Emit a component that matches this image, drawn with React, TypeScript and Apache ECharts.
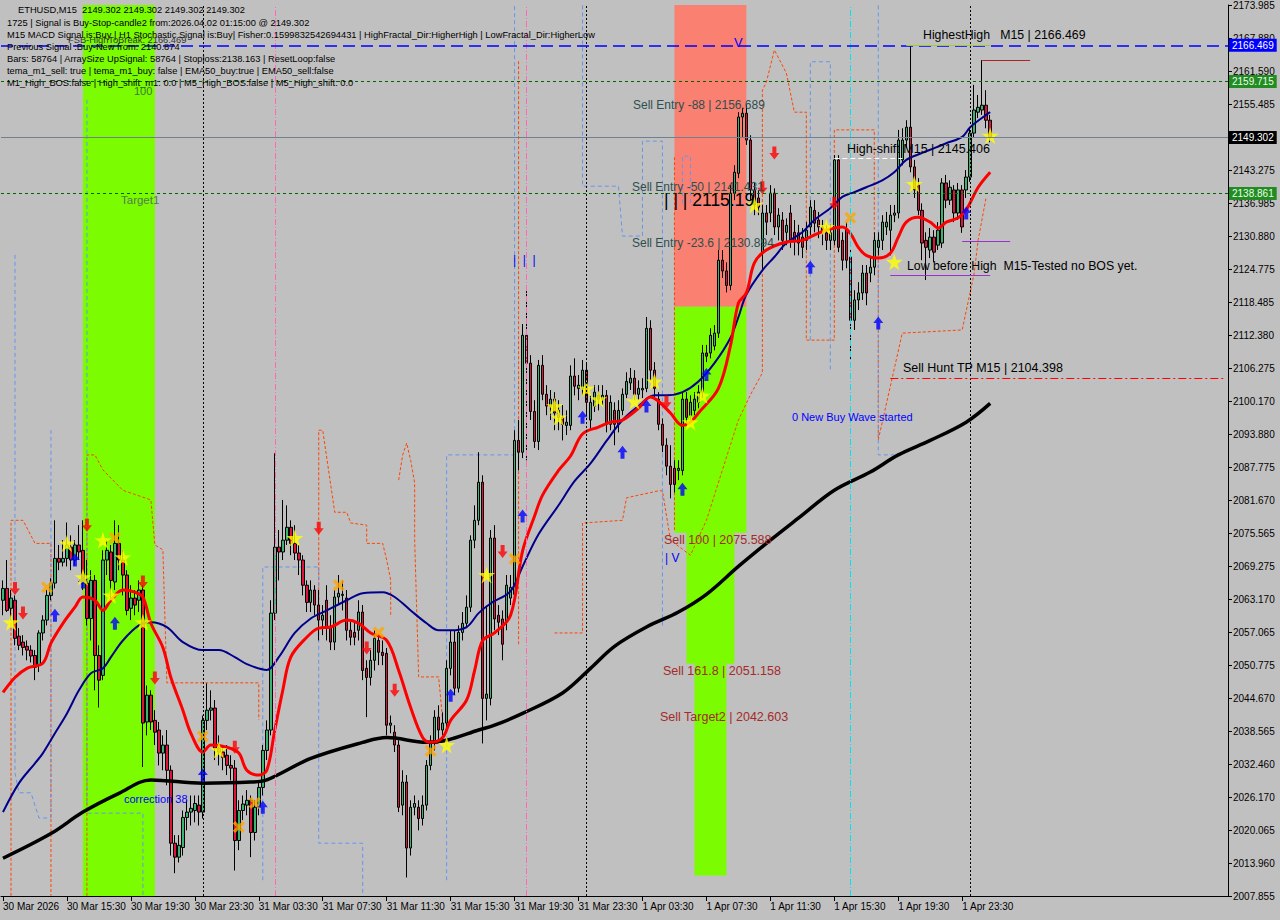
import React, { useEffect, useRef } from "react";
import * as echarts from "echarts";

const X_LABELS = ["30 Mar 2026","30 Mar 15:30","30 Mar 19:30","30 Mar 23:30","31 Mar 03:30","31 Mar 07:30","31 Mar 11:30","31 Mar 15:30","31 Mar 19:30","31 Mar 23:30","1 Apr 03:30","1 Apr 07:30","1 Apr 11:30","1 Apr 15:30","1 Apr 19:30","1 Apr 23:30"];
const Y_LABELS = ["2007.855","2013.960","2020.065","2026.170","2032.460","2038.565","2044.670","2050.775","2057.065","2063.170","2069.275","2075.565","2081.670","2087.775","2093.880","2100.170","2106.275","2112.380","2118.485","2124.775","2130.880","2136.985","2143.275","2149.380","2155.485","2161.590","2167.880","2173.985"];
const PRICE_MIN = 2007.855;
const PRICE_MAX = 2173.985;
const SLOT_COUNT = 307;

// [open, close, low, high]
const CANDLES = [
[2063.0,2065.2,2060.2,2066.7],[2065.2,2061.1,2060.8,2070.5],[2061.5,2063.4,2059.3,2064.9],[2063.0,2055.9,2054.6,2063.9],[2056.3,2054.6,2053.7,2057.8],
[2055.2,2054.2,2052.7,2056.5],[2054.4,2053.7,2051.8,2055.5],[2053.7,2052.6,2051.4,2054.6],[2052.7,2050.5,2048.1,2053.7],[2050.9,2056.9,2049.6,2057.4],
[2056.9,2059.3,2055.5,2060.2],[2059.3,2063.9,2058.3,2064.9],[2063.9,2066.2,2063.0,2067.1],[2066.2,2070.8,2065.2,2077.9],[2070.8,2070.1,2068.6,2073.3],
[2070.1,2070.8,2069.3,2074.2],[2070.8,2073.3,2069.3,2077.5],[2072.9,2070.5,2068.6,2075.1],[2070.5,2073.3,2069.5,2074.2],[2073.3,2072.0,2070.5,2077.0],
[2072.3,2066.2,2064.9,2077.9],[2066.2,2059.6,2058.3,2070.5],[2059.6,2066.7,2055.5,2068.6],[2066.7,2052.7,2046.2,2067.7],[2052.7,2048.1,2043.0,2054.6],
[2049.0,2070.5,2048.1,2072.3],[2070.5,2072.3,2067.7,2074.2],[2072.0,2066.7,2063.0,2073.3],[2066.4,2073.6,2064.9,2077.9],[2073.6,2070.5,2068.6,2077.0],
[2070.5,2067.7,2063.9,2072.3],[2067.7,2061.1,2060.2,2068.6],[2061.5,2063.4,2059.3,2065.8],[2063.4,2062.1,2060.2,2064.9],[2063.0,2064.9,2060.8,2066.7],
[2064.9,2040.1,2031.9,2065.8],[2040.3,2045.3,2037.8,2047.1],[2045.3,2040.3,2038.8,2046.2],[2040.6,2038.4,2036.0,2042.5],[2038.8,2034.5,2032.2,2040.3],
[2034.5,2036.0,2031.3,2037.8],[2036.0,2031.3,2028.5,2038.8],[2031.3,2017.7,2015.4,2032.2],[2017.7,2015.1,2012.1,2019.2],[2015.1,2017.3,2014.1,2019.2],
[2016.9,2022.5,2015.4,2023.8],[2022.5,2023.5,2020.1,2025.7],[2023.5,2024.2,2021.0,2026.6],[2023.8,2025.1,2021.6,2026.6],[2024.8,2023.5,2021.0,2026.6],
[2023.5,2040.6,2022.3,2041.5],[2040.6,2042.5,2038.8,2047.5],[2042.5,2042.9,2040.6,2046.2],[2042.9,2035.4,2033.2,2044.4],[2035.4,2034.7,2032.2,2037.8],
[2034.7,2033.7,2031.3,2036.0],[2034.1,2032.2,2030.4,2036.0],[2032.2,2031.7,2029.4,2034.1],[2031.7,2018.2,2012.6,2033.2],[2018.2,2023.8,2016.4,2025.7],
[2023.8,2025.0,2022.0,2026.6],[2024.8,2025.7,2022.9,2027.6],[2025.7,2019.7,2015.1,2026.6],[2019.7,2024.4,2018.2,2025.7],[2024.4,2028.1,2022.9,2029.4],
[2028.1,2035.0,2026.6,2036.0],[2035.0,2038.8,2033.2,2040.6],[2038.8,2060.6,2037.8,2063.0],[2060.6,2072.9,2059.3,2090.4],[2072.9,2072.0,2066.7,2076.1],
[2072.0,2074.2,2070.5,2081.7],[2074.2,2076.6,2073.3,2080.7],[2076.6,2073.6,2071.4,2077.9],[2073.6,2071.8,2070.5,2077.0],[2071.8,2070.5,2067.7,2073.3],
[2070.5,2065.8,2063.9,2071.4],[2065.8,2062.6,2060.8,2066.7],[2062.6,2064.9,2060.8,2066.7],[2064.9,2062.1,2060.2,2065.8],[2062.1,2059.3,2055.5,2064.9],
[2059.3,2060.2,2056.5,2062.1],[2063.0,2058.0,2055.5,2065.8],[2058.0,2055.2,2053.7,2060.2],[2055.2,2063.6,2053.7,2064.9],[2063.6,2064.3,2062.1,2067.7],
[2063.9,2064.1,2061.1,2066.7],[2063.4,2057.4,2055.5,2064.9],[2057.4,2056.1,2054.6,2059.3],[2057.0,2056.1,2054.6,2059.3],[2057.4,2060.8,2055.5,2063.0],
[2060.8,2049.9,2048.1,2062.1],[2050.3,2048.6,2041.2,2051.8],[2048.6,2051.8,2047.1,2053.7],[2051.8,2055.9,2049.9,2057.4],[2055.5,2053.3,2050.9,2056.5],
[2053.3,2052.7,2050.9,2055.5],[2053.1,2039.7,2037.8,2054.1],[2039.7,2040.1,2038.2,2041.5],[2038.4,2036.0,2034.7,2039.7],[2036.0,2024.4,2023.5,2036.9],
[2024.8,2029.1,2022.9,2031.3],[2029.1,2016.8,2011.3,2030.4],[2016.8,2024.4,2015.4,2025.7],[2024.4,2025.1,2022.9,2026.6],[2024.4,2022.3,2020.1,2025.7],
[2022.3,2024.8,2021.0,2026.6],[2024.8,2032.2,2023.8,2033.2],[2032.2,2036.3,2031.3,2037.8],[2036.3,2041.2,2035.0,2042.5],[2041.2,2038.8,2036.9,2043.4],
[2038.8,2040.1,2037.8,2042.1],[2040.1,2050.3,2038.8,2051.8],[2050.3,2055.2,2049.0,2057.4],[2055.2,2046.6,2045.3,2057.4],[2046.6,2057.0,2045.8,2058.3],
[2057.0,2058.7,2055.5,2060.8],[2058.7,2061.7,2057.8,2063.9],[2061.7,2074.2,2060.8,2075.1],[2074.2,2077.9,2072.7,2080.7],[2077.9,2085.0,2077.0,2090.6],
[2085.0,2044.7,2036.3,2086.3],[2044.7,2045.5,2040.6,2062.0],[2044.7,2074.6,2043.4,2076.1],[2074.6,2059.5,2057.4,2077.0],[2060.2,2058.9,2056.5,2062.1],
[2059.5,2054.8,2051.8,2061.1],[2058.9,2065.8,2057.4,2067.7],[2063.4,2065.4,2062.1,2067.7],[2064.1,2092.8,2063.0,2094.7],[2092.8,2090.6,2087.2,2096.6],
[2090.6,2112.4,2089.5,2114.5],[2112.4,2107.2,2089.1,2121.7],[2107.2,2098.2,2096.6,2108.7],[2098.2,2092.6,2091.4,2100.3],[2092.6,2106.8,2091.0,2107.8],
[2106.8,2101.4,2100.3,2108.7],[2101.4,2099.2,2097.5,2103.1],[2099.2,2100.5,2096.6,2102.2],[2100.5,2097.9,2094.7,2101.8],[2098.4,2097.1,2094.7,2100.3],
[2097.1,2095.8,2092.8,2099.4],[2095.6,2096.2,2093.8,2098.4],[2095.6,2104.8,2094.7,2106.8],[2104.8,2102.9,2101.2,2108.1],[2102.5,2103.1,2100.3,2105.0],
[2102.5,2105.9,2101.2,2107.8],[2105.9,2099.9,2097.5,2107.4],[2096.6,2099.9,2094.7,2101.2],[2099.2,2101.8,2098.1,2103.1],[2101.2,2100.5,2098.4,2103.1],
[2100.5,2101.2,2099.4,2103.1],[2101.2,2095.8,2094.3,2102.2],[2095.8,2099.9,2094.7,2101.2],[2098.4,2095.8,2091.9,2099.9],[2095.8,2098.4,2094.3,2100.3],
[2098.4,2101.4,2097.5,2102.5],[2101.4,2103.8,2100.7,2105.5],[2103.5,2104.4,2102.2,2106.3],[2104.4,2101.4,2100.3,2105.9],[2101.4,2102.5,2100.3,2104.0],
[2102.2,2102.5,2100.7,2104.4],[2102.5,2113.7,2101.8,2115.8],[2113.7,2105.9,2104.0,2115.2],[2105.9,2102.5,2100.7,2107.4],[2100.5,2095.8,2094.7,2101.8],
[2095.8,2091.9,2090.6,2096.9],[2091.9,2088.0,2086.3,2093.2],[2088.0,2084.6,2082.0,2091.9],[2087.6,2084.6,2083.1,2089.1],[2087.2,2087.6,2085.4,2089.1],
[2087.2,2100.5,2086.3,2101.8],[2100.5,2097.1,2095.6,2101.8],[2097.5,2099.9,2096.2,2101.2],[2098.4,2100.5,2097.5,2101.8],[2099.9,2101.8,2098.8,2103.1],
[2101.8,2109.1,2100.7,2110.6],[2109.1,2108.5,2107.4,2110.6],[2109.1,2112.4,2108.1,2113.7],[2110.4,2112.8,2109.6,2114.3],[2112.8,2126.4,2111.9,2128.3],
[2126.4,2124.4,2123.1,2128.3],[2124.4,2121.7,2120.4,2126.0],[2121.7,2138.9,2120.8,2140.4],[2138.9,2142.8,2137.6,2144.1],[2142.6,2153.1,2141.7,2154.0],
[2153.1,2153.8,2149.4,2154.8],[2153.8,2148.8,2147.9,2155.3],[2148.8,2139.5,2137.6,2149.7],[2139.5,2136.7,2134.8,2140.8],[2138.0,2136.3,2134.8,2139.5],
[2127.7,2135.2,2124.5,2136.7],[2135.2,2133.5,2131.1,2136.7],[2135.2,2138.9,2133.5,2140.4],[2138.9,2132.6,2131.1,2139.8],[2132.6,2134.8,2130.1,2136.1],
[2133.9,2130.1,2128.3,2135.4],[2131.6,2132.9,2129.2,2134.2],[2135.2,2130.1,2128.7,2136.7],[2131.6,2130.1,2127.3,2133.9],[2131.5,2129.6,2127.3,2133.0],
[2130.7,2128.8,2126.8,2132.4],[2130.1,2132.0,2128.3,2133.5],[2132.6,2136.3,2131.1,2137.6],[2135.7,2133.3,2131.6,2137.6],[2133.9,2132.6,2130.5,2135.4],
[2132.6,2131.5,2129.2,2133.9],[2131.5,2130.1,2128.3,2132.9],[2130.1,2131.5,2128.3,2133.0],[2130.1,2145.1,2129.2,2146.0],[2145.1,2128.8,2127.9,2146.0],
[2130.1,2126.4,2124.5,2131.6],[2132.0,2126.4,2124.9,2133.5],[2127.0,2115.2,2107.8,2128.3],[2115.2,2119.0,2113.4,2120.8],[2119.0,2120.3,2117.1,2122.3],
[2120.3,2124.0,2119.0,2125.5],[2124.0,2120.3,2118.0,2125.5],[2124.0,2125.1,2122.3,2126.8],[2125.1,2130.1,2123.6,2131.6],[2128.8,2130.1,2127.3,2131.6],
[2130.1,2133.5,2128.3,2134.8],[2132.6,2133.5,2131.1,2135.4],[2132.0,2134.8,2127.3,2136.7],[2134.8,2135.2,2133.5,2136.7],[2135.2,2148.8,2134.2,2150.7],
[2145.1,2148.8,2144.1,2151.0],[2148.8,2151.2,2147.3,2152.5],[2151.2,2143.8,2142.8,2166.469],[2143.8,2139.5,2138.0,2145.1],[2140.4,2135.7,2134.8,2141.7],
[2135.7,2129.6,2126.4,2137.0],[2130.1,2128.8,2122.7,2131.6],[2128.3,2130.7,2126.8,2132.4],[2130.7,2127.9,2126.0,2132.0],[2129.2,2132.0,2128.3,2133.5],
[2129.6,2140.8,2128.7,2141.7],[2140.8,2137.6,2136.1,2142.3],[2137.6,2140.0,2136.7,2141.3],[2139.5,2135.2,2133.5,2140.4],[2135.2,2139.5,2133.9,2140.8],
[2139.5,2132.6,2131.5,2140.4],[2139.5,2141.9,2138.0,2143.2],[2141.9,2150.1,2141.0,2151.0],[2150.1,2154.4,2149.2,2159.1],[2154.0,2154.9,2152.9,2157.2],
[2154.4,2155.3,2153.5,2163.7],[2155.3,2152.5,2151.0,2158.1],[2152.5,2149.302,2148.4,2153.5]
];

// [bar index, price]
const RED_LINE = [[0,2045.8],[3,2048.6],[6,2050.3],[10,2051.3],[12,2055.0],[15,2058.7],[18,2061.7],[20,2063.6],[23,2063.0],[25,2061.1],[27,2063.0],[30,2064.9],[33,2064.5],[35,2063.6],[37,2058.7],[40,2054.2],[42,2048.6],[45,2042.5],[47,2038.2],[50,2034.7],[52,2036.0],[56,2035.6],[59,2034.5],[61,2031.3],[64,2030.4],[66,2031.3],[68,2038.8],[70,2046.2],[72,2052.4],[76,2056.1],[79,2057.8],[82,2058.0],[86,2059.3],[89,2058.7],[92,2056.9],[96,2055.5],[99,2049.9],[102,2043.0],[105,2037.4],[107,2036.5],[110,2037.4],[112,2040.6],[116,2044.4],[118,2049.9],[120,2055.5],[123,2056.9],[127,2060.2],[130,2072.2],[133,2078.7],[135,2082.6],[139,2087.2],[142,2089.9],[145,2094.0],[149,2095.3],[152,2096.2],[155,2096.6],[159,2098.8],[162,2100.9],[164,2100.1],[167,2097.9],[170,2095.6],[172,2096.2],[174,2097.9],[179,2102.5],[182,2110.4],[184,2118.4],[186,2120.3],[188,2125.9],[191,2128.3],[196,2129.8],[200,2130.1],[203,2131.1],[206,2132.0],[210,2132.6],[212,2131.4],[214,2128.8],[216,2127.3],[219,2126.8],[222,2127.7],[224,2130.7],[226,2133.5],[229,2134.4],[232,2133.5],[234,2132.4],[236,2133.5],[239,2134.3],[241,2135.8],[244,2140.0],[247,2142.8]];
const BLUE_LINE = [[0,2023.5],[4,2028.9],[8,2032.6],[10,2034.5],[13,2038.2],[16,2041.9],[19,2046.2],[22,2049.4],[25,2050.3],[27,2052.4],[30,2055.5],[34,2058.3],[37,2058.9],[41,2058.0],[45,2055.2],[50,2053.7],[54,2053.7],[58,2052.4],[61,2051.1],[66,2050.0],[69,2052.4],[73,2056.9],[77,2059.6],[81,2061.1],[86,2063.0],[90,2064.3],[95,2064.5],[98,2063.6],[102,2061.1],[106,2058.7],[109,2057.4],[112,2057.4],[116,2058.0],[119,2060.6],[122,2062.4],[127,2064.7],[130,2069.3],[134,2075.3],[139,2080.7],[143,2085.2],[147,2088.5],[151,2092.7],[155,2096.6],[159,2099.2],[163,2101.2],[166,2101.2],[170,2101.8],[174,2103.8],[178,2107.2],[182,2111.9],[184,2115.8],[186,2120.0],[190,2124.5],[193,2127.0],[196,2129.6],[200,2131.6],[203,2133.9],[207,2136.1],[210,2138.2],[213,2139.1],[216,2140.0],[220,2141.3],[223,2142.8],[226,2145.1],[230,2146.4],[233,2147.3],[236,2148.2],[240,2149.4],[242,2151.2],[246,2153.5],[247,2154.0]];
const BLACK_LINE = [[0,2014.9],[12,2019.5],[20,2023.5],[29,2027.0],[37,2029.5],[50,2028.9],[62,2029.1],[66,2029.5],[77,2033.5],[90,2036.5],[96,2037.4],[106,2036.5],[111,2036.9],[119,2038.8],[123,2039.7],[130,2041.9],[140,2045.7],[147,2050.3],[153,2054.4],[161,2058.0],[169,2060.8],[176,2064.1],[184,2069.3],[192,2074.2],[199,2078.3],[208,2083.5],[217,2086.9],[224,2090.1],[232,2092.8],[241,2096.2],[247,2099.7]];

// stepped channel traces, [bar index, price]
const ORANGE_TRACES = [
  [[2,2007.9],[2,2077.9],[5,2077.9],[8,2073.6],[12,2073.6],[12,2007.9]],
  [[21,2007.9],[21,2090.1],[23,2090.1],[25,2087.3],[30,2083.5],[37,2081.7],[38,2073.3],[40,2072.4],[41,2047.6],[64,2047.6],[64,2040.7]],
  [[79,2057.4],[79,2094.7],[80,2094.7],[83,2079.4],[86,2079.4],[87,2077.4],[91,2077.0],[91,2073.6],[95,2073.6],[96,2070.5],[97,2066.8],[97,2059.9]],
  [[99,2085.4],[100,2090.1],[101,2092.3],[102,2089.1],[103,2084.9],[103,2074.2],[104,2048.7],[109,2048.7],[110,2040.7]],
  [[129,2054.8],[129,2163.7]],
  [[168,2145.6],[168,2076.1]],
  [[138,2056.9],[145,2056.9],[145,2077.4],[155,2077.9],[156,2082.1],[164,2083.4],[165,2083.4],[167,2074.2],[172,2071.4],[176,2077.9],[180,2087.3],[184,2096.6],[187,2101.3],[190,2105.4],[190,2158.1],[191,2159.6],[193,2165.6],[196,2161.3],[198,2154.0],[201,2154.0],[201,2111.5],[208,2111.5],[208,2150.7],[218,2150.7],[218,2127.0]],
  [[219,2130.2],[219,2092.9],[225,2112.8],[240,2113.4],[243,2124.0],[244,2130.2],[246,2138.2]],
];
const BLUE_TRACES = [
  [[3,2127.4],[3,2030.8],[4,2027.1],[7,2027.1],[9,2022.4],[12,2022.4],[12,2094.7]],
  [[21,2156.3],[21,2023.3],[35,2023.3],[35,2007.9]],
  [[65,2010.8],[65,2069.2],[79,2069.2],[79,2017.7],[90,2017.7],[90,2007.9]],
  [[111,2010.8],[111,2090.1],[128,2090.1],[128,2173.9]],
  [[145,2173.9],[145,2140.2],[154,2140.2],[155,2130.9],[160,2130.9],[160,2148.6],[165,2148.6],[165,2058.2]],
  [[170,2137.0],[170,2145.8],[172,2145.8],[172,2136.7],[188,2136.7]],
  [[202,2111.5],[202,2163.4],[207,2163.4],[207,2105.9]],
  [[219,2173.9],[219,2090.1],[225,2090.1]],
];

const STAR_SIGNALS = [[2,2058.9],[16,2073.6],[20,2067.3],[25,2074.2],[27,2063.9],[30,2071.0],[35,2058.9],[54,2035.1],[73,2074.6],[111,2036.0],[121,2067.7],[138,2099.2],[139,2097.1],[146,2102.5],[149,2100.5],[158,2100.1],[163,2103.8],[172,2096.2],[175,2101.2],[188,2136.7],[206,2132.6],[223,2126.1],[228,2140.6],[247,2149.6]];
const SELL_ARROWS = [[3,2065.2],[5,2060.6],[21,2077.0],[35,2066.4],[38,2048.5],[58,2035.6],[79,2076.4],[91,2054.1],[98,2046.2],[125,2072.1],[166,2099.9],[190,2139.9],[193,2146.4],[208,2137.0]];
const BUY_ARROWS = [[13,2060.2],[18,2070.5],[20,2066.4],[28,2058.7],[50,2030.4],[65,2024.4],[112,2045.3],[130,2078.7],[145,2097.1],[155,2090.6],[161,2099.2],[170,2083.7],[176,2105.1],[202,2125.1],[219,2114.7],[241,2135.2]];
const CROSS_SIGNALS = [[11,2065.4],[28,2074.6],[50,2037.6],[59,2020.7],[63,2025.2],[84,2065.8],[94,2057.0],[107,2034.9],[128,2070.7],[212,2134.3]];

const HIGHEST_HIGH = 2166.469;
const FRACTAL_HIGH = 2159.715;
const BID = 2149.302;
const FRACTAL_LOW = 2138.861;
const HIGH_SHIFT = 2145.406;
const SELL_HUNT_TP = 2104.398;
const LOW_BEFORE_HIGH = 2123.6;
const LOW_BEFORE_HIGH_TOP = 2130.0;
const RESISTANCE_CAP = 2163.7;
const ZONE_SPLIT = 2117.7;
const SELL_100 = 2075.588;
const SELL_161 = 2051.158;
const ZONE_FLOOR = 2011.7;
const DAY_STARTS = [50, 146, 242];

const FONT = '"Liberation Sans", Arial, sans-serif';
const STAR = "path://M50 0L61 35L98 35L68 57L79 91L50 70L21 91L32 57L2 35L39 35Z";
const DOWN = "path://M3 0H7V6H10L5 12L0 6H3Z";
const UP = "path://M5 0L10 6H7V12H3V6H0Z";
const CROSS = "path://M0 2L2 0L5 3L8 0L10 2L7 5L10 8L8 10L5 7L2 10L0 8L3 5Z";

const isLabelSlot = (i: number) => i % 16 === 0 && i / 16 < X_LABELS.length;

function tag(text: string, bg: string, fg: string) {
  return { show: true, position: "end", formatter: text, backgroundColor: bg, color: fg, padding: [2, 3, 1, 3], fontSize: 10, fontFamily: FONT, distance: 1 };
}

function txt(x: number, y: number, text: string, fill: string, size: number) {
  return { type: "text", x, y, z: 50, silent: true, style: { text, fill, fontSize: size, fontFamily: FONT, verticalAlign: "middle", align: "left" } };
}

function buildOption() {
  const cats = Array.from({ length: SLOT_COUNT }, (_, i) => String(i));
  const noLabel = { show: false };
  const seg = (a: number, b: number, price: number, lineStyle: any) => [
    { coord: [a, price], lineStyle, label: noLabel },
    { coord: [b, price] },
  ];
  const traceSeries = (traces: number[][][], color: string, dash: number[]) =>
    traces.map((t) => ({
      type: "line", data: t, symbol: "none", z: 2, silent: true,
      lineStyle: { color, width: 1, type: dash },
    }));
  return {
    animation: false,
    backgroundColor: "#c0c0c0",
    grid: { left: 0, right: 52, top: 5, bottom: 24, containLabel: false },
    xAxis: {
      type: "category",
      data: cats,
      boundaryGap: true,
      axisLine: { show: true, lineStyle: { color: "#000", width: 1 } },
      axisTick: { show: true, interval: (i: number) => isLabelSlot(i), alignWithLabel: true, length: 5, lineStyle: { color: "#000" } },
      axisLabel: {
        interval: (i: number) => isLabelSlot(i),
        formatter: (_v: string, i: number) => X_LABELS[Math.floor(i / 16)] || "",
        align: "left", margin: 5, fontSize: 10, color: "#000", fontFamily: FONT,
      },
      splitLine: { show: false },
    },
    yAxis: [
      {
        type: "value", min: PRICE_MIN, max: PRICE_MAX, position: "right", scale: true,
        axisLine: { show: true, lineStyle: { color: "#000" } },
        axisLabel: { show: false }, axisTick: { show: false }, splitLine: { show: false },
      },
      {
        type: "value", min: 0, max: Y_LABELS.length - 1, interval: 1, position: "right",
        axisLine: { show: false },
        axisTick: { show: true, length: 4, lineStyle: { color: "#000" } },
        axisLabel: { formatter: (v: number) => Y_LABELS[Math.round(v)] || "", fontSize: 10, color: "#000", margin: 5, fontFamily: FONT },
        splitLine: { show: false },
      },
    ],
    series: [
      {
        type: "candlestick",
        data: CANDLES,
        barWidth: 3,
        z: 2,
        itemStyle: { color: "#3cb371", color0: "#dc143c", borderColor: "#000", borderColor0: "#000", borderWidth: 1 },
        markArea: {
          silent: true,
          data: [
            [{ xAxis: 20, yAxis: PRICE_MIN, itemStyle: { color: "#7cfc00" } }, { xAxis: 38, yAxis: PRICE_MAX }],
            [{ xAxis: 168, yAxis: ZONE_SPLIT, itemStyle: { color: "#fa8072" } }, { xAxis: 186, yAxis: PRICE_MAX }],
            [{ xAxis: 168, yAxis: SELL_100, itemStyle: { color: "#7cfc00" } }, { xAxis: 186, yAxis: ZONE_SPLIT }],
            [{ xAxis: 171, yAxis: SELL_161, itemStyle: { color: "#7cfc00" } }, { xAxis: 183, yAxis: SELL_100 }],
            [{ xAxis: 173, yAxis: ZONE_FLOOR, itemStyle: { color: "#7cfc00" } }, { xAxis: 181, yAxis: SELL_161 }],
          ],
        },
        markLine: {
          silent: true,
          symbol: ["none", "none"],
          data: [
            ...DAY_STARTS.map((d) => ({ xAxis: d, lineStyle: { color: "#000", type: [2, 2], width: 1 }, label: noLabel })),
            { xAxis: 68, lineStyle: { color: "#ff69b4", type: [6, 2, 1, 2], width: 1 }, label: noLabel },
            { xAxis: 131, lineStyle: { color: "#ff69b4", type: [6, 2, 1, 2], width: 1 }, label: noLabel },
            { xAxis: 212, lineStyle: { color: "#00e5ee", type: [6, 2, 1, 2], width: 1 }, label: noLabel },
            { yAxis: HIGHEST_HIGH, lineStyle: { color: "#0000ff", type: [12, 6], width: 1.5 }, label: tag("2166.469", "#0000ff", "#ffffff") },
            { yAxis: FRACTAL_HIGH, lineStyle: { color: "#006400", type: [3, 3], width: 1 }, label: tag("2159.715", "#228b22", "#e8ffe8") },
            { yAxis: BID, lineStyle: { color: "#708090", type: "solid", width: 1 }, label: tag("2149.302", "#000000", "#ffffff") },
            { yAxis: FRACTAL_LOW, lineStyle: { color: "#006400", type: [3, 3], width: 1 }, label: tag("2138.861", "#228b22", "#e8ffe8") },
            seg(222, SLOT_COUNT - 1, SELL_HUNT_TP, { color: "#ff0000", type: [8, 3, 2, 3], width: 1.2 }),
            seg(208, 225, HIGH_SHIFT, { color: "#ffffff", type: [5, 3], width: 1 }),
            seg(222, 247, LOW_BEFORE_HIGH, { color: "#9932cc", type: "solid", width: 1 }),
            seg(240, 252, LOW_BEFORE_HIGH_TOP, { color: "#9932cc", type: "solid", width: 1 }),
            seg(226, 247, HIGHEST_HIGH, { color: "#9acd32", type: "solid", width: 1 }),
            seg(245, 257, RESISTANCE_CAP, { color: "#b22222", type: "solid", width: 1 }),
          ],
        },
      },
      ...traceSeries(ORANGE_TRACES, "#ff4500", [3, 2]),
      ...traceSeries(BLUE_TRACES, "#6495ed", [4, 3]),
      { type: "line", data: BLACK_LINE, smooth: 0.35, symbol: "none", z: 3, lineStyle: { color: "#000", width: 3.5 } },
      { type: "line", data: BLUE_LINE, smooth: 0.35, symbol: "none", z: 3, lineStyle: { color: "#00008b", width: 2 } },
      { type: "line", data: RED_LINE, smooth: 0.35, symbol: "none", z: 3, lineStyle: { color: "#ff0000", width: 3 } },
      { type: "scatter", data: CROSS_SIGNALS, symbol: CROSS, symbolSize: 12, z: 4, itemStyle: { color: "#ffa500" } },
      { type: "scatter", data: BUY_ARROWS, symbol: UP, symbolSize: [10, 13], z: 4, itemStyle: { color: "#0000ff" } },
      { type: "scatter", data: SELL_ARROWS, symbol: DOWN, symbolSize: [10, 13], z: 4, itemStyle: { color: "#ff0000" } },
      { type: "scatter", data: STAR_SIGNALS, symbol: STAR, symbolSize: 17, z: 4, itemStyle: { color: "#ffff00" } },
    ],
    graphic: [
      txt(18, 10, "ETHUSD,M15  2149.302 2149.302 2149.302 2149.302", "#000", 9.3),
      txt(7, 23, "1725 | Signal is Buy-Stop-candle2 from:2026.04.02 01:15:00 @ 2149.302", "#000", 9.3),
      txt(7, 35, "M15 MACD Signal is:Buy | H1 Stochastic Signal is:Buy| Fisher:0.1599832542694431 | HighFractal_Dir:HigherHigh | LowFractal_Dir:HigherLow", "#000", 9.3),
      txt(68, 40, "FSB-HighToBreak: 2166.469", "#333", 9.3),
      txt(7, 47, "Previous Signal :Buy-New from: 2140.874", "#000", 9.3),
      txt(7, 59, "Bars: 58764 | ArraySize UpSignal: 58764 | Stoploss:2138.163 | ResetLoop:false", "#000", 9.3),
      txt(7, 71, "tema_m1_sell: true | tema_m1_buy: false | EMA50_buy:true | EMA50_sell:false", "#000", 9.3),
      txt(7, 83, "M1_High_BOS:false | High_shift_m1: 0.0 | M5_High_BOS:false | M5_High_shift: 0.0", "#000", 9.3),
      txt(134, 91, "100", "#3a7a3a", 11),
      txt(121, 200, "Target1", "#4e7e4e", 11.5),
      txt(124, 799, "correction 38", "#0000ff", 11),
      txt(633, 105, "Sell Entry -88 | 2156.689", "#2f4f4f", 12),
      txt(632, 187, "Sell Entry -50 | 2141.431", "#2f4f4f", 12),
      txt(632, 243, "Sell Entry -23.6 | 2130.894", "#2f4f4f", 12),
      txt(664, 200, "| | | 2115.19", "#000", 17.5),
      txt(664, 540, "Sell 100 | 2075.588", "#a52a2a", 12.5),
      txt(663, 671, "Sell 161.8 | 2051.158", "#a52a2a", 12.5),
      txt(660, 717, "Sell Target2 | 2042.603", "#a52a2a", 12.5),
      txt(923, 35, "HighestHigh   M15 | 2166.469", "#000", 12.3),
      txt(847, 149, "High-shift M15 | 2145.406", "#000", 12.5),
      txt(907, 266, "Low before High  M15-Tested no BOS yet.", "#000", 12.3),
      txt(903, 368, "Sell Hunt TP M15 | 2104.398", "#000", 12.5),
      txt(792, 417, "0 New Buy Wave started", "#0000ff", 11),
      txt(734, 42, "V", "#0000ff", 13),
      txt(665, 558, "| V", "#0000ff", 12),
      txt(513, 260, "|  |  |", "#0000ff", 12),
    ],
  };
}

export default function App() {
  const ref = useRef<HTMLDivElement>(null);
  useEffect(() => {
    if (!ref.current) return;
    const chart = echarts.init(ref.current, undefined, { renderer: "svg" });
    chart.setOption(buildOption() as any);
    return () => chart.dispose();
  }, []);
  return (
    <div
      ref={ref}
      style={{ position: "fixed", left: 0, top: 0, width: 1280, height: 920, background: "#c0c0c0" }}
    />
  );
}
